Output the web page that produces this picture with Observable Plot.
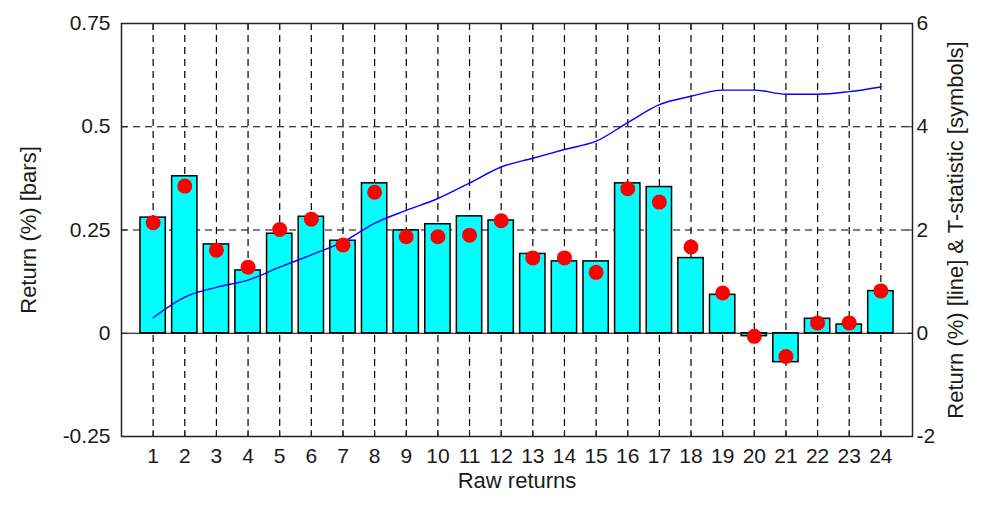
<!DOCTYPE html>
<html>
<head>
<meta charset="utf-8">
<script src="https://cdn.jsdelivr.net/npm/d3@7"></script>
<script src="https://cdn.jsdelivr.net/npm/@observablehq/plot@0.6"></script>
<style>
  html, body { margin: 0; padding: 0; background: white; }
</style>
</head>
<body>
<div id="chart"></div>
<script>
const categories = [1, 2, 3, 4, 5, 6, 7, 8, 9, 10, 11, 12, 13, 14, 15, 16, 17, 18, 19, 20, 21, 22, 23, 24];
// bars: raw return (%) on left axis
const barReturns = [0.28, 0.38, 0.215, 0.152, 0.241, 0.282, 0.224, 0.363, 0.249, 0.264, 0.283, 0.273,
                    0.192, 0.174, 0.174, 0.363, 0.354, 0.182, 0.093, -0.007, -0.070, 0.035, 0.021, 0.102];
// symbols: T-statistic on right axis
const tStats = [2.14, 2.85, 1.61, 1.28, 2.01, 2.21, 1.71, 2.73, 1.87, 1.87, 1.90, 2.18,
                1.46, 1.46, 1.18, 2.80, 2.54, 1.67, 0.78, -0.06, -0.45, 0.20, 0.20, 0.82];
// line: cumulative return (%) on right axis
const cumReturns = [0.30, 0.70, 0.89, 1.03, 1.28, 1.52, 1.77, 2.13, 2.38, 2.61, 2.91, 3.22,
                    3.39, 3.56, 3.72, 4.08, 4.43, 4.59, 4.71, 4.71, 4.63, 4.63, 4.68, 4.77];
const leftTicks = [-0.25, 0, 0.25, 0.5, 0.75];
const leftTickLabels = ["-0.25", "0", "0.25", "0.5", "0.75"];
const rightTickLabels = ["-2", "0", "2", "4", "6"];
const gridY = [0.25, 0.5];

// right axis range [-2, 6] maps onto left range [-0.25, 0.75]
const rightToLeft = v => v / 8;

const data = categories.map((c, i) => ({
  x: c,
  bar: barReturns[i],
  t: rightToLeft(tStats[i]),
  cum: rightToLeft(cumReturns[i])
}));

const fontFamily = "'Liberation Sans', Arial, sans-serif";

const chart = Plot.plot({
  width: 983,
  height: 508,
  marginLeft: 121,
  marginRight: 71,
  marginTop: 23,
  marginBottom: 72,
  style: { fontFamily, fontSize: "21px", background: "white", color: "#1a1a1a", overflow: "visible" },
  x: { domain: [0, 25] },
  y: { domain: [-0.25, 0.75] },
  marks: [
    Plot.ruleX(categories, { x: d => d, stroke: "black", strokeWidth: 1.2, strokeDasharray: "7,5" }),
    Plot.ruleY(gridY, { y: d => d, stroke: "black", strokeWidth: 1.2, strokeDasharray: "7,5" }),
    Plot.rect(data, {
      x1: d => d.x - 0.4, x2: d => d.x + 0.4,
      y1: () => 0, y2: "bar",
      fill: "#00ffff", stroke: "black", strokeWidth: 1.5
    }),
    Plot.ruleY([0], { stroke: "black", strokeWidth: 1.2 }),
    Plot.line(data, { x: "x", y: "cum", stroke: "#0000ff", strokeWidth: 1.4, curve: "monotone-x" }),
    Plot.dot(data, { x: "x", y: "t", r: 7.5, fill: "#ff0000", stroke: "none" }),
    Plot.frame({ stroke: "#222", strokeWidth: 1.5 }),
    Plot.axisY(leftTicks, {
      anchor: "left", tickSize: -6, tickPadding: 17,
      tickFormat: (d) => leftTickLabels[leftTicks.indexOf(d)],
      label: null, stroke: "#222"
    }),
    Plot.axisY(leftTicks, {
      anchor: "right", tickSize: -6, tickPadding: 10,
      tickFormat: (d) => rightTickLabels[leftTicks.indexOf(d)],
      label: null, stroke: "#222"
    }),
    Plot.axisX(categories, {
      anchor: "bottom", tickSize: -6, tickPadding: 18,
      tickFormat: d => String(d), label: null, stroke: "#222"
    }),
    Plot.axisX(categories, {
      anchor: "top", tickSize: -6, tickFormat: () => "", label: null, stroke: "#222"
    }),
    Plot.text(["Return (%) [bars]"], {
      text: d => d, frameAnchor: "left", rotate: -90, dx: -93,
      fontSize: 22, fill: "#1a1a1a", textAnchor: "middle"
    }),
    Plot.text(["Return (%) [line] & T-statistic [symbols]"], {
      text: d => d, frameAnchor: "right", rotate: -90, dx: 43,
      fontSize: 22, fill: "#1a1a1a", textAnchor: "middle"
    }),
    Plot.text(["Raw returns"], {
      text: d => d, frameAnchor: "bottom", dy: 51,
      fontSize: 22, fill: "#1a1a1a", textAnchor: "middle"
    })
  ]
});

document.getElementById("chart").appendChild(chart);
</script>
</body>
</html>
